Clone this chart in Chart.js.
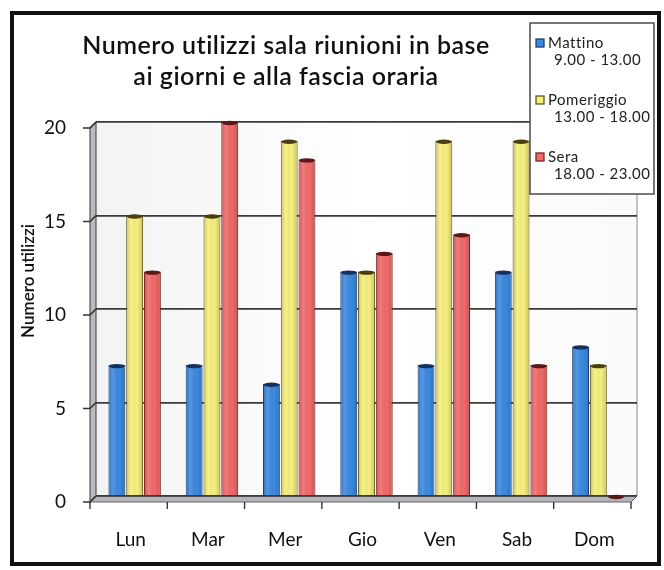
<!DOCTYPE html>
<html>
<head>
<meta charset="utf-8">
<script src="https://cdn.jsdelivr.net/npm/chart.js@4/dist/chart.umd.min.js"></script>
<style>
html,body{margin:0;padding:0;background:#fff;}
#wrap{width:664px;height:570px;position:relative;}
</style>
</head>
<body>
<div id="wrap"><canvas id="c" width="664" height="570"></canvas></div>
<script>
const categories = ['Lun', 'Mar', 'Mer', 'Gio', 'Ven', 'Sab', 'Dom'];
const mattino = [7, 7, 6, 12, 7, 12, 8];
const pomeriggio = [15, 15, 19, 12, 19, 19, 7];
const sera = [12, 20, 18, 13, 14, 7, 0];
const seriesNames = ['Mattino', 'Pomeriggio', 'Sera'];
const seriesRanges = ['9.00 - 13.00', '13.00 - 18.00', '18.00 - 23.00'];
const yTicks = [0, 5, 10, 15, 20];
const titleLines = ['Numero utilizzi sala riunioni in base', 'ai giorni e alla fascia oraria'];
const yTitle = 'Numero utilizzi';

const FONT = 'Lato, "Open Sans", sans-serif';
const fills = ['#3c8ae0', '#f6ef7c', '#f06a69'];
const edges = ['#1d3f78', '#5e5818', '#7a2525'];
const caps = ['#16305e', '#4a3e10', '#5a1818'];
const DX = 6, DY = 6; // 3D depth offset (front = back + (-DX, +DY))

const bgPlugin = {
  id: 'bgPlugin',
  beforeDraw(chart) {
    const {ctx, chartArea: a} = chart;
    ctx.save();
    ctx.fillStyle = '#ffffff';
    ctx.fillRect(0, 0, chart.width, chart.height);
    // outer frame
    ctx.strokeStyle = '#111';
    ctx.lineWidth = 4;
    ctx.strokeRect(12, 13, 647, 551);
    // back wall
    const g = ctx.createLinearGradient(a.left, 0, a.right, 0);
    g.addColorStop(0, '#f3f3f3');
    g.addColorStop(0.5, '#ffffff');
    g.addColorStop(1, '#fafafa');
    ctx.fillStyle = g;
    ctx.fillRect(a.left, a.top, a.right - a.left, a.bottom - a.top);
    // left side wall
    ctx.fillStyle = '#b9b9c2';
    ctx.beginPath();
    ctx.moveTo(a.left - DX, a.top + DY);
    ctx.lineTo(a.left, a.top);
    ctx.lineTo(a.left, a.bottom);
    ctx.lineTo(a.left - DX, a.bottom + DY);
    ctx.closePath();
    ctx.fill();
    ctx.strokeStyle = '#555';
    ctx.lineWidth = 1.2;
    ctx.stroke();
    // floor
    ctx.fillStyle = '#b4b4bc';
    ctx.beginPath();
    ctx.moveTo(a.left, a.bottom);
    ctx.lineTo(a.right, a.bottom);
    ctx.lineTo(a.right - DX, a.bottom + DY);
    ctx.lineTo(a.left - DX, a.bottom + DY);
    ctx.closePath();
    ctx.fill();
    ctx.strokeStyle = '#666';
    ctx.lineWidth = 1;
    ctx.stroke();
    // right edge of wall
    ctx.strokeStyle = '#888';
    ctx.beginPath();
    ctx.moveTo(a.right, a.top);
    ctx.lineTo(a.right, a.bottom);
    ctx.stroke();
    // gridline stubs on side wall + front tick marks
    const y = chart.scales.y;
    ctx.strokeStyle = '#333';
    ctx.lineWidth = 1.6;
    yTicks.forEach(v => {
      const py = y.getPixelForValue(v);
      ctx.beginPath();
      ctx.moveTo(a.left - DX - 7, py + DY);
      ctx.lineTo(a.left - DX, py + DY);
      ctx.lineTo(a.left, py);
      ctx.stroke();
    });
    // x tick marks at front floor edge
    const x = chart.scales.x;
    const step = x.getPixelForValue(1) - x.getPixelForValue(0);
    ctx.lineWidth = 1.4;
    for (let i = 0; i <= categories.length; i++) {
      const px = x.getPixelForValue(0) - step / 2 + i * step;
      ctx.beginPath();
      ctx.moveTo(px - DX, a.bottom + DY);
      ctx.lineTo(px - DX, a.bottom + DY + 7);
      ctx.stroke();
    }
    ctx.restore();
  },
  afterDatasetsDraw(chart) {
    const {ctx} = chart;
    ctx.save();
    chart.data.datasets.forEach((ds, i) => {
      const meta = chart.getDatasetMeta(i);
      meta.data.forEach(bar => {
        const w = bar.width;
        const x0 = bar.x - w / 2;
        const g = ctx.createLinearGradient(x0, 0, x0 + w, 0);
        g.addColorStop(0, 'rgba(0,0,0,0.22)');
        g.addColorStop(0.3, 'rgba(255,255,255,0.12)');
        g.addColorStop(0.65, 'rgba(0,0,0,0)');
        g.addColorStop(1, 'rgba(0,0,0,0.18)');
        ctx.fillStyle = g;
        ctx.fillRect(x0 + 1, bar.y, w - 2, bar.base - bar.y);
        ctx.fillStyle = caps[i];
        ctx.beginPath();
        ctx.ellipse(bar.x, bar.y + 1, w / 2 - 0.5, 2.2, 0, 0, Math.PI * 2);
        ctx.fill();
      });
    });
    ctx.restore();
  },
  afterDraw(chart) {
    const {ctx} = chart;
    ctx.save();
    // title
    ctx.fillStyle = '#111';
    ctx.font = '600 25px ' + FONT;
    ctx.letterSpacing = '0.5px';
    ctx.textAlign = 'center';
    ctx.textBaseline = 'middle';
    ctx.fillText(titleLines[0], 286, 46);
    ctx.fillText(titleLines[1], 286, 77);
    // y title
    ctx.save();
    ctx.translate(29, 281);
    ctx.rotate(-Math.PI / 2);
    ctx.font = '600 17px ' + FONT;
    ctx.letterSpacing = '0px';
    ctx.fillText(yTitle, 0, 0);
    ctx.restore();
    // legend box
    ctx.fillStyle = '#ffffff';
    ctx.fillRect(530, 23, 124, 171);
    ctx.strokeStyle = '#555';
    ctx.lineWidth = 1.6;
    ctx.strokeRect(530, 23, 124, 171);
    const rows = [43, 100, 157];
    ctx.textAlign = 'left';
    ctx.font = '15px ' + FONT;
    ctx.letterSpacing = '0.5px';
    chart.data.datasets.forEach((ds, i) => {
      const yy = rows[i];
      ctx.fillStyle = fills[i];
      ctx.fillRect(536, yy - 4, 8, 8);
      ctx.strokeStyle = edges[i];
      ctx.lineWidth = 1.3;
      ctx.strokeRect(536, yy - 4, 8, 8);
      ctx.fillStyle = '#222';
      ctx.fillText(seriesNames[i], 548, yy);
      ctx.fillText(seriesRanges[i], 554, yy + 17);
    });
    ctx.restore();
  }
};

new Chart(document.getElementById('c'), {
  type: 'bar',
  data: {
    labels: categories,
    datasets: [mattino, pomeriggio, sera].map((d, i) => ({
      label: seriesNames[i] + ' ' + seriesRanges[i],
      data: d,
      backgroundColor: fills[i],
      borderColor: edges[i],
      borderWidth: 1,
      borderSkipped: 'bottom',
      categoryPercentage: 0.69,
      barPercentage: 0.95
    }))
  },
  options: {
    responsive: false,
    animation: false,
    devicePixelRatio: 1,
    layout: {padding: {left: 0, right: 27, top: 122, bottom: 0}},
    plugins: {
      legend: {display: false},
      title: {display: false},
      tooltip: {enabled: false}
    },
    scales: {
      x: {
        offset: true,
        afterFit(s) { s.height = 74; },
        grid: {display: false, drawTicks: false},
        border: {display: false},
        ticks: {color: '#111', font: {family: FONT, size: 19}, padding: 32, labelOffset: -4}
      },
      y: {
        min: 0, max: 20,
        afterFit(s) { s.width = 96; },
        afterBuildTicks(s) { s.ticks = yTicks.map(v => ({value: v})); },
        grid: {color: '#3a3a3a', lineWidth: 1.8, drawTicks: false},
        border: {display: false},
        ticks: {color: '#111', font: {family: FONT, size: 19}, padding: 30, labelOffset: 6}
      }
    }
  },
  plugins: [bgPlugin]
});
</script>
</body>
</html>
